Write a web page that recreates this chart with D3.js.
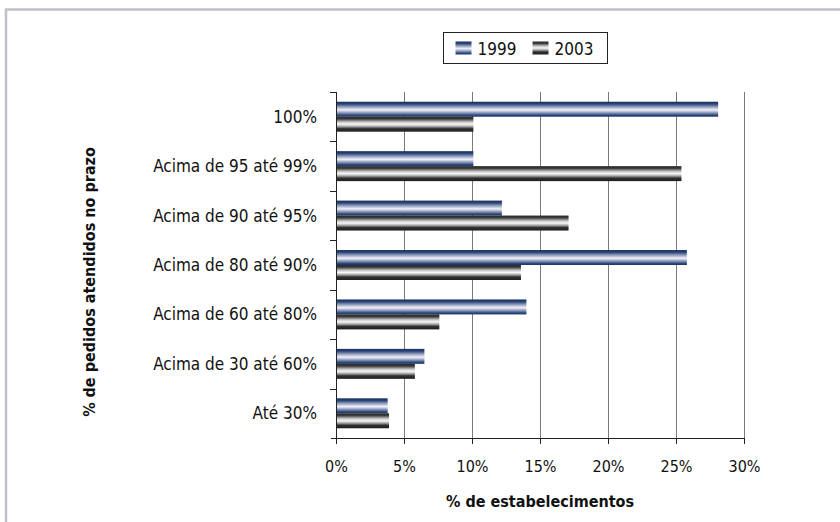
<!DOCTYPE html>
<html>
<head>
<meta charset="utf-8">
<script src="https://cdn.jsdelivr.net/npm/d3@7"></script>
<style>
  body { margin: 0; background: #fff; }
  svg text { font-family: "Liberation Sans Narrow", "DejaVu Sans", sans-serif; font-stretch: condensed; fill: #111; }
</style>
</head>
<body>
<div id="chart"></div>
<script>
// dados
var categories = ["100%", "Acima de 95 até 99%", "Acima de 90 até 95%", "Acima de 80 até 90%",
                  "Acima de 60 até 80%", "Acima de 30 até 60%", "Até 30%"];
var series = ["1999", "2003"];
var v1999 = [28.1, 10.1, 12.2, 25.8, 14.0, 6.5, 3.8];
var v2003 = [10.1, 25.4, 17.1, 13.6, 7.6, 5.8, 3.9];
var xTicks = [0, 5, 10, 15, 20, 25, 30];

var W = 840, H = 522;
var pLeft = 336, pRight = 744, pTop = 92, pBottom = 438;

var svg = d3.select("#chart").append("svg")
  .attr("width", W)
  .attr("height", H);

// gradientes (efeito cilindro)
var defs = svg.append("defs");
function grad(id, stops) {
  var g = defs.append("linearGradient").attr("id", id)
    .attr("x1", 0).attr("y1", 0).attr("x2", 0).attr("y2", 1);
  stops.forEach(function(s) {
    g.append("stop").attr("offset", s[0] + "%").attr("stop-color", s[1]);
  });
}
grad("g1999", [[0, "#16305f"], [15, "#2b4476"], [38, "#a3aeca"], [55, "#f2f2f8"],
               [72, "#96a1c2"], [90, "#2b467a"], [100, "#1a3565"]]);
grad("g2003", [[0, "#262626"], [15, "#3c3c3c"], [35, "#c4c4c4"], [50, "#f8f8f8"],
               [65, "#a8a8a8"], [80, "#303030"], [100, "#1e1e1e"]]);
var fills = { "1999": "url(#g1999)", "2003": "url(#g2003)" };

// moldura
svg.append("rect")
  .attr("x", 6).attr("y", 9.5)
  .attr("width", 860).attr("height", 540)
  .attr("fill", "none")
  .attr("stroke", "#c0c0c6")
  .attr("stroke-width", 2.5);

var x = d3.scaleLinear().domain([0, 30]).range([pLeft, pRight]);
var y = d3.scaleBand().domain(categories).range([pTop, pBottom]).padding(0);
var ySub = d3.scaleBand().domain(series).range([0, y.bandwidth()])
  .paddingInner(0).paddingOuter(0.65);

// grade vertical
svg.selectAll(".grid")
  .data(xTicks.slice(1))
  .enter()
  .append("line")
  .attr("class", "grid")
  .attr("x1", function(d) { return Math.round(x(d)) + 0.5; })
  .attr("x2", function(d) { return Math.round(x(d)) + 0.5; })
  .attr("y1", pTop)
  .attr("y2", pBottom)
  .attr("stroke", "#7a7a7a")
  .attr("stroke-width", 1);

// barras
var rows = categories.map(function(c, i) {
  return { cat: c, vals: [{ s: "1999", v: v1999[i] }, { s: "2003", v: v2003[i] }] };
});
var g = svg.selectAll(".row")
  .data(rows)
  .enter()
  .append("g")
  .attr("class", "row")
  .attr("transform", function(d) { return "translate(0," + y(d.cat) + ")"; });

g.selectAll("rect")
  .data(function(d) { return d.vals; })
  .enter()
  .append("rect")
  .attr("x", x(0))
  .attr("y", function(d) { return ySub(d.s); })
  .attr("width", function(d) { return x(d.v) - x(0); })
  .attr("height", ySub.bandwidth())
  .attr("fill", function(d) { return fills[d.s]; });

// eixo x
var xAxis = d3.axisBottom(x)
  .tickValues(xTicks)
  .tickSize(6)
  .tickSizeOuter(0)
  .tickFormat(function(d) { return d + "%"; });
var gx = svg.append("g")
  .attr("transform", "translate(0," + pBottom + ")")
  .call(xAxis);
gx.select(".domain").remove();
gx.selectAll("line").attr("stroke", "#222");
gx.selectAll("text")
  .attr("dy", null)
  .attr("y", 34)
  .style("font-size", "16px");
svg.append("line")
  .attr("x1", pLeft - 5).attr("x2", pRight)
  .attr("y1", pBottom + 0.5).attr("y2", pBottom + 0.5)
  .attr("stroke", "#222");

// eixo y
svg.append("line")
  .attr("x1", pLeft + 0.5).attr("x2", pLeft + 0.5)
  .attr("y1", pTop).attr("y2", pBottom + 6)
  .attr("stroke", "#222");
var bounds = categories.map(function(c) { return y(c); });
svg.selectAll(".ytick")
  .data(bounds)
  .enter()
  .append("line")
  .attr("class", "ytick")
  .attr("x1", pLeft - 6).attr("x2", pLeft)
  .attr("y1", function(d) { return Math.round(d) + 0.5; })
  .attr("y2", function(d) { return Math.round(d) + 0.5; })
  .attr("stroke", "#222");

svg.selectAll(".ylab")
  .data(categories)
  .enter()
  .append("text")
  .attr("class", "ylab")
  .attr("x", pLeft - 19)
  .attr("y", function(d) { return y(d) + y.bandwidth() / 2 + 6; })
  .attr("text-anchor", "end")
  .style("font-size", "17px")
  .text(function(d) { return d; });

// títulos
svg.append("text")
  .attr("x", (pLeft + pRight) / 2)
  .attr("y", 507)
  .attr("text-anchor", "middle")
  .style("font-size", "16px")
  .style("font-weight", "bold")
  .text("% de estabelecimentos");

svg.append("text")
  .attr("transform", "translate(95,282) rotate(-90)")
  .attr("text-anchor", "middle")
  .style("font-size", "16px")
  .style("font-weight", "bold")
  .text("% de pedidos atendidos no prazo");

// legenda
var leg = svg.append("g").attr("transform", "translate(443.5,32.5)");
leg.append("rect")
  .attr("width", 164).attr("height", 31)
  .attr("fill", "#fff")
  .attr("stroke", "#222");
var li = leg.selectAll(".li")
  .data(series)
  .enter()
  .append("g")
  .attr("class", "li")
  .attr("transform", function(d, i) { return "translate(" + (12 + i * 77) + ",9)"; });
li.append("rect")
  .attr("width", 16).attr("height", 13)
  .attr("fill", function(d) { return fills[d]; });
li.append("text")
  .attr("x", 22).attr("y", 13)
  .style("font-size", "17px")
  .text(function(d) { return d; });
</script>
</body>
</html>
